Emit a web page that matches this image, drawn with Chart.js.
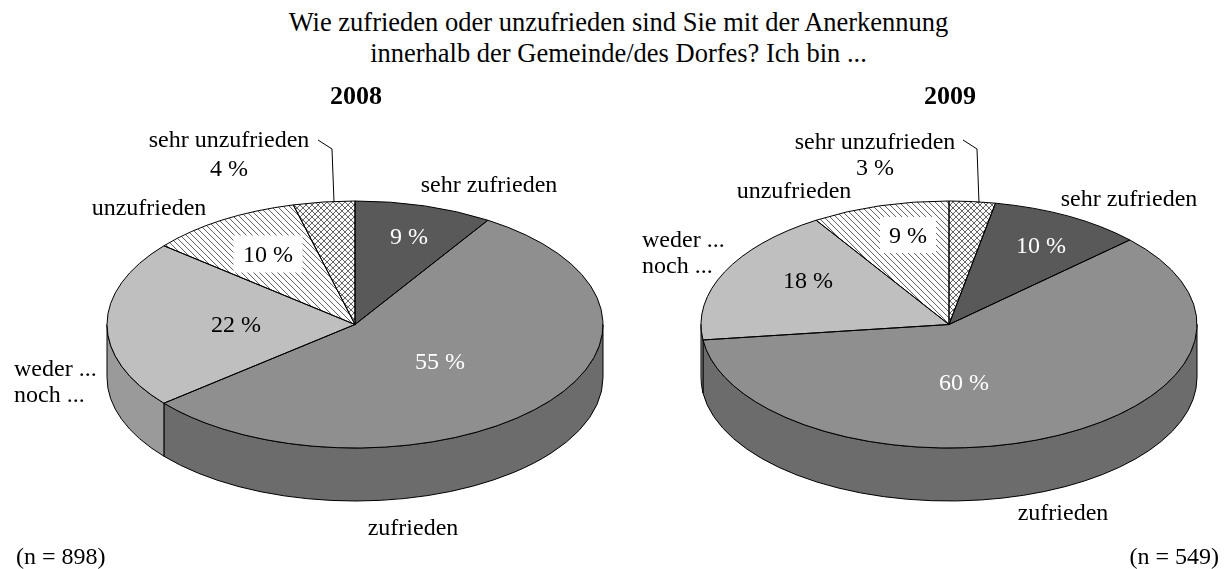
<!DOCTYPE html>
<html lang="de">
<head>
  <meta charset="UTF-8" />
  <title>Anerkennung innerhalb der Gemeinde</title>
  <script src="https://cdn.jsdelivr.net/npm/chart.js"></script>
  <style>
    body { margin: 0; background: #fff; overflow: hidden; }
    #stage { position: relative; width: 1228px; height: 569px; }
    canvas { position: absolute; top: 0; }
    #c2008 { left: 0; }
    #c2009 { left: 614px; }
    #title {
      position: absolute; left: 0; top: 7px; width: 1237px; text-align: center;
      font: 26.5px/30.5px "Liberation Serif", serif; color: #000;
    }
  </style>
</head>
<body>
  <div id="stage">
    <div id="title">Wie zufrieden oder unzufrieden sind Sie mit der Anerkennung<br />innerhalb der Gemeinde/des Dorfes? Ich bin ...</div>
    <canvas id="c2008" width="614" height="569"></canvas>
    <canvas id="c2009" width="614" height="569"></canvas>
  </div>

  <script>
    const categories = ["sehr zufrieden", "zufrieden", "weder ...\nnoch ...", "unzufrieden", "sehr unzufrieden"];
    const values2008 = [9, 55, 22, 10, 4];
    const values2009 = [10, 60, 18, 9, 3];
    const n2008 = 898;
    const n2009 = 549;

    // Textpositionen auf der Seite
    const namePos2008 = [[489, 186], [413, 529], [14, 370], [149, 209], [229, 141]];
    const pctPos2008 = [[409, 238], [440, 363], [236, 326], [268, 256], [229, 170]];
    const namePos2009 = [[1129, 200], [1063, 514], [642, 241], [794, 192], [875, 143]];
    const pctPos2009 = [[1041, 247], [964, 384], [808, 282], [908, 237], [875, 169]];

    const FLATTEN = 0.498;
    const DEPTH = 53;
    const FONT = '24px "Liberation Serif", serif';
    const BOLD = 'bold 26px "Liberation Serif", serif';

    const sideColors = ["#4a4a4a", "#6c6c6c", "#9a9a9a", "#bbbbbb", "#bbbbbb"];

    function hatchPattern(size, cross) {
      const tile = document.createElement("canvas");
      tile.width = tile.height = size;
      const t = tile.getContext("2d");
      t.fillStyle = "#fff";
      t.fillRect(0, 0, size, size);
      t.strokeStyle = "#333";
      t.lineWidth = 0.8;
      const line = (x0, y0, x1, y1) => { t.beginPath(); t.moveTo(x0, y0); t.lineTo(x1, y1); t.stroke(); };
      line(-1, -1, size + 1, size + 1);
      line(-1, size - 1, 1, size + 1);
      line(size - 1, -1, size + 1, 1);
      if (cross) {
        line(-1, size + 1, size + 1, -1);
        line(-1, 1, 1, -1);
        line(size - 1, size + 1, size + 1, size - 1);
      }
      const p = t.createPattern(tile, "repeat");
      // die Torte wird flach gezeichnet, das Muster soll es nicht werden
      p.setTransform(new DOMMatrix().scale(1, 1 / FLATTEN));
      return p;
    }

    const pieColors = ["#595959", "#8f8f8f", "#bfbfbf", hatchPattern(6, false), hatchPattern(6, true)];

    function squash(ctx, x, y) {
      ctx.translate(x, y);
      ctx.scale(1, FLATTEN);
      ctx.translate(-x, -y);
    }

    const pie3d = {
      id: "pie3d",
      beforeDatasetsDraw(chart) {
        const ctx = chart.ctx;
        const arcs = chart.getDatasetMeta(0).data;
        ctx.save();
        ctx.lineWidth = 1;
        ctx.strokeStyle = "#000";
        arcs.forEach((arc, i) => {
          const a0 = Math.max(arc.startAngle, 0);
          const a1 = Math.min(arc.endAngle, Math.PI);
          if (a1 <= a0) return;
          const r = arc.outerRadius;
          ctx.beginPath();
          ctx.ellipse(arc.x, arc.y, r, r * FLATTEN, 0, a0, a1);
          ctx.ellipse(arc.x, arc.y + DEPTH, r, r * FLATTEN, 0, a1, a0, true);
          ctx.closePath();
          ctx.fillStyle = sideColors[i];
          ctx.fill();
          ctx.stroke();
        });
        ctx.restore();
        ctx.save();
        squash(ctx, arcs[0].x, arcs[0].y);
      },
      afterDatasetsDraw(chart) {
        const ctx = chart.ctx;
        ctx.restore();
        ctx.save();
        ctx.lineWidth = 1;
        ctx.strokeStyle = "#000";
        chart.getDatasetMeta(0).data.forEach(arc => {
          const r = arc.outerRadius;
          ctx.beginPath();
          ctx.moveTo(arc.x, arc.y);
          ctx.ellipse(arc.x, arc.y, r, r * FLATTEN, 0, arc.startAngle, arc.endAngle);
          ctx.closePath();
          ctx.stroke();
        });
        ctx.restore();
      },
      afterDraw(chart, args, o) {
        const ctx = chart.ctx;
        const dx = chart.canvas.offsetLeft;
        ctx.save();
        // Fuehrungslinie
        ctx.strokeStyle = "#000";
        ctx.lineWidth = 1;
        ctx.beginPath();
        o.leader.forEach(([x, y], i) => (i ? ctx.lineTo(x - dx, y) : ctx.moveTo(x - dx, y)));
        ctx.stroke();

        ctx.textBaseline = "middle";
        ctx.font = FONT;
        ctx.fillStyle = "#000";
        categories.forEach((name, i) => {
          const lines = name.split("\n");
          ctx.textAlign = lines.length > 1 ? "left" : "center";
          lines.forEach((line, k) => ctx.fillText(line, o.namePos[i][0] - dx, o.namePos[i][1] + k * 26));
        });
        ctx.textAlign = "center";
        o.values.forEach((v, i) => {
          const [x, y] = o.pctPos[i];
          if (o.boxes[i]) {
            ctx.fillStyle = "#fff";
            const [w, h] = o.boxes[i];
            ctx.fillRect(x - dx - w / 2, y - 2 - h / 2, w, h);
          }
          ctx.fillStyle = o.pctColors[i];
          ctx.fillText(v + " %", x - dx, y);
        });
        ctx.fillStyle = "#000";
        ctx.font = BOLD;
        ctx.fillText(o.year, o.yearX - dx, 97);
        ctx.font = FONT;
        ctx.textAlign = o.nAlign;
        ctx.fillText("(n = " + o.n + ")", o.nX - dx, 558);
        ctx.restore();
      }
    };

    function makePie(id, values, rotation, padLeft, extra) {
      return new Chart(document.getElementById(id), {
        type: "pie",
        plugins: [pie3d],
        data: {
          labels: categories,
          datasets: [{ data: values, backgroundColor: pieColors, borderWidth: 0, clip: false }]
        },
        options: {
          responsive: false,
          animation: false,
          rotation: rotation,
          radius: 248,
          layout: { padding: { left: padLeft, top: 80 } },
          plugins: {
            legend: { display: false },
            tooltip: { enabled: false },
            pie3d: Object.assign({ values: values }, extra)
          }
        }
      });
    }

    makePie("c2008", values2008, 0, 96, {
      year: "2008", yearX: 356, n: n2008, nX: 16, nAlign: "left",
      namePos: namePos2008, pctPos: pctPos2008,
      pctColors: ["#fff", "#fff", "#000", "#000", "#000"],
      boxes: [null, null, null, [69, 37], null],
      leader: [[318, 140], [332, 149], [334, 202]]
    });
    makePie("c2009", values2009, 10.8, 56, {
      year: "2009", yearX: 950, n: n2009, nX: 1219, nAlign: "right",
      namePos: namePos2009, pctPos: pctPos2009,
      pctColors: ["#fff", "#fff", "#000", "#000", "#000"],
      boxes: [null, null, null, [56, 36], null],
      leader: [[963, 140], [977, 149], [979, 203]]
    });
  </script>
</body>
</html>
